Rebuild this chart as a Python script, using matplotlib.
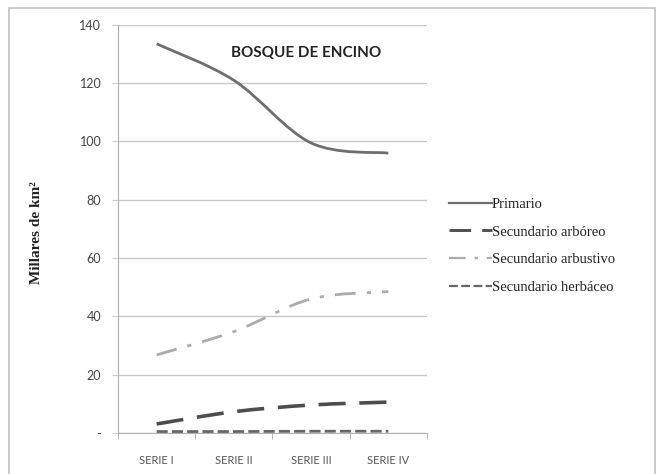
import matplotlib
matplotlib.use("Agg")
import matplotlib.pyplot as plt
from matplotlib.path import Path
import matplotlib.patches as patches

series = ["SERIE I", "SERIE II", "SERIE III", "SERIE IV"]
primario = [133.5, 121, 99.5, 96]
sec_arboreo = [3.1, 7.3, 9.6, 10.6]
sec_arbustivo = [26.8, 34.8, 46, 48.5]
sec_herbaceo = [0.5, 0.5, 0.6, 0.6]
yticks = [0, 20, 40, 60, 80, 100, 120, 140]
ytick_labels = ["-", "20", "40", "60", "80", "100", "120", "140"]


def curva_suave(xs, ys):
    # Bezier tipo Excel (Catmull-Rom) entre los puntos
    verts = [(xs[0], ys[0])]
    codes = [Path.MOVETO]
    n = len(xs)
    for i in range(n - 1):
        x0, y0 = (xs[i - 1], ys[i - 1]) if i > 0 else (xs[i], ys[i])
        x1, y1 = xs[i], ys[i]
        x2, y2 = xs[i + 1], ys[i + 1]
        x3, y3 = (xs[i + 2], ys[i + 2]) if i + 2 < n else (x2, y2)
        c1 = (x1 + (x2 - x0) / 6, y1 + (y2 - y0) / 6)
        c2 = (x2 - (x3 - x1) / 6, y2 - (y3 - y1) / 6)
        verts += [c1, c2, (x2, y2)]
        codes += [Path.CURVE4] * 3
    return Path(verts, codes)


fig = plt.figure(figsize=(6.57, 4.74), dpi=100)
ax = fig.add_axes([0.1796, 0.0865, 0.4703, 0.861])

xs = list(range(len(series)))
estilos = [
    ("Primario", primario, dict(color="#6e6e6e", lw=2.0, ls="-")),
    ("Secundario arbóreo", sec_arboreo, dict(color="#4d4d4d", lw=2.6, ls=(0, (7.5, 3.8)))),
    ("Secundario arbustivo", sec_arbustivo, dict(color="#ababab", lw=2.0, ls=(0, (7.5, 4, 1.5, 4)))),
    ("Secundario herbáceo", sec_herbaceo, dict(color="#666666", lw=2.0, ls=(0, (4, 1.5)))),
]
for nombre, vals, st in estilos:
    pp = patches.PathPatch(curva_suave(xs, vals), fill=False, capstyle="butt",
                           color=st["color"], lw=st["lw"], ls=st["ls"])
    ax.add_patch(pp)
    ax.plot([], [], label=nombre, color=st["color"], lw=st["lw"] * 0.8, ls=st["ls"])

ax.set_xlim(-0.5, len(series) - 0.5)
ax.set_ylim(0, 140)
ax.set_yticks(yticks)
ax.set_yticklabels(ytick_labels)
ax.set_xticks(xs)
ax.set_xticklabels(series)
ax.set_xticks([i - 0.5 for i in range(len(series) + 1)], minor=True)
ax.tick_params(axis="x", which="major", length=0, pad=16, labelsize=8, labelcolor="#555555")
ax.tick_params(axis="x", which="minor", length=4, color="#aaaaaa", direction="out")
ax.tick_params(axis="y", length=4, color="#cccccc", labelsize=9, labelcolor="#444444", pad=8)
for lab in ax.get_xticklabels() + ax.get_yticklabels():
    lab.set_family("Lato")

ax.grid(axis="y", color="#c8c8c8", lw=1)
ax.set_axisbelow(True)
for lado in ["top", "right"]:
    ax.spines[lado].set_visible(False)
ax.spines["left"].set_color("#b0b0b0")
ax.spines["bottom"].set_color("#b0b0b0")

ax.text(0.61, 0.932, "BOSQUE DE ENCINO", transform=ax.transAxes, ha="center", va="center",
        fontsize=11, fontweight="bold", family="Lato", color="#222222")

fig.text(0.056, 0.51, "Millares de km²", rotation=90, ha="center", va="center",
         fontsize=11, fontweight="bold", family="Liberation Serif", color="#222222")

leg = fig.legend(loc="upper left", bbox_to_anchor=(0.664, 0.611), frameon=False,
                 handlelength=2.9, handletextpad=0.0, labelspacing=1.0,
                 prop={"family": "Liberation Serif", "size": 10.5})
for t in leg.get_texts():
    t.set_color("#222222")

borde = patches.Rectangle((9 / 657, -0.05), 646 / 657, 1 - 8 / 474 + 0.05, transform=fig.transFigure,
                          fill=False, edgecolor="#c0c0c0", lw=1.2)
fig.patches.append(borde)

fig.savefig("out.png", dpi=100)
